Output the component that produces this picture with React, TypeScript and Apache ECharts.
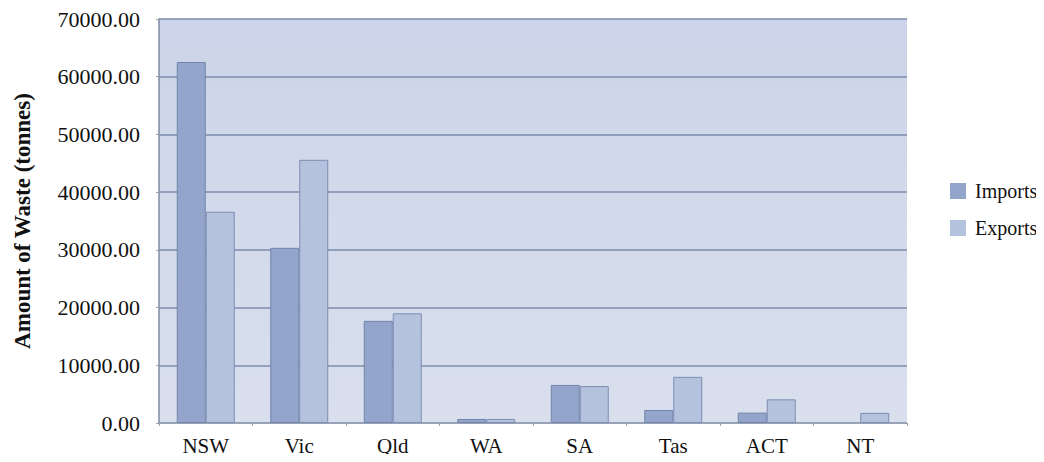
import React, { useEffect, useRef } from "react";
import * as echarts from "echarts";

const categories = ["NSW", "Vic", "Qld", "WA", "SA", "Tas", "ACT", "NT"];
const imports = [62550, 30350, 17700, 700, 6600, 2250, 1800, 0];
const exports = [36600, 45600, 19000, 700, 6400, 8000, 4100, 1750];
const yTicks = [0, 10000, 20000, 30000, 40000, 50000, 60000, 70000];

const toData = (arr: number[]) =>
  arr.map((v) => (v === 0 ? { value: v, itemStyle: { borderWidth: 0 } } : v));

export default function App() {
  const ref = useRef<HTMLDivElement>(null);
  useEffect(() => {
    const chart = echarts.init(ref.current!, null, { renderer: "svg" });
    const font = "Liberation Serif";
    chart.setOption({
      animation: false,
      textStyle: { fontFamily: font },
      grid: {
        left: 159,
        right: 137,
        top: 19,
        bottom: 39,
        show: true,
        borderWidth: 0,
        backgroundColor: new echarts.graphic.LinearGradient(0, 0, 0, 1, [
          { offset: 0, color: "#cbd4e8" },
          { offset: 1, color: "#d9dfed" },
        ]),
      },
      legend: {
        orient: "vertical",
        left: 945,
        top: 176,
        itemWidth: 16,
        itemHeight: 16,
        itemGap: 17,
        icon: "rect",
        itemStyle: { borderWidth: 0 },
        textStyle: { fontFamily: font, fontSize: 20, lineHeight: 20, color: "#111", padding: [0, 0, 0, 4] },
        data: ["Imports", "Exports"],
      },
      xAxis: {
        type: "category",
        data: categories,
        axisLine: { show: true, lineStyle: { color: "#9aa3b5", width: 1 } },
        axisTick: { show: true, length: 3, lineStyle: { color: "#9aa3b5" } },
        axisLabel: { fontFamily: font, fontSize: 21, color: "#111", margin: 12 },
      },
      yAxis: {
        type: "value",
        min: 0,
        max: 70000,
        interval: 10000,
        name: "Amount of Waste (tonnes)",
        nameLocation: "middle",
        nameGap: 125,
        nameTextStyle: { fontFamily: font, fontSize: 23, fontWeight: "bold", color: "#111" },
        axisLine: { show: true, lineStyle: { color: "#7f8aa3", width: 1.5 } },
        axisTick: { show: true, length: 3, lineStyle: { color: "#9aa3b5" } },
        axisLabel: {
          fontFamily: font,
          fontSize: 22,
          color: "#111",
          margin: 19,
          formatter: (v: number) => (yTicks.includes(v) ? v.toFixed(2) : ""),
        },
        splitLine: { show: true, lineStyle: { color: "#7d8bab", width: 1.5 } },
      },
      series: [
        {
          name: "Imports",
          type: "bar",
          data: toData(imports),
          barWidth: 29,
          barGap: "0%",
          itemStyle: { color: "#93a5cb", borderColor: "#7384ab", borderWidth: 1 },
        },
        {
          name: "Exports",
          type: "bar",
          data: toData(exports),
          barWidth: 29,
          barGap: "0%",
          itemStyle: { color: "#b4c2dd", borderColor: "#7d8db2", borderWidth: 1 },
        },
      ],
    });
    return () => chart.dispose();
  }, []);
  return <div ref={ref} style={{ width: 1044, height: 462, margin: -8 }} />;
}
